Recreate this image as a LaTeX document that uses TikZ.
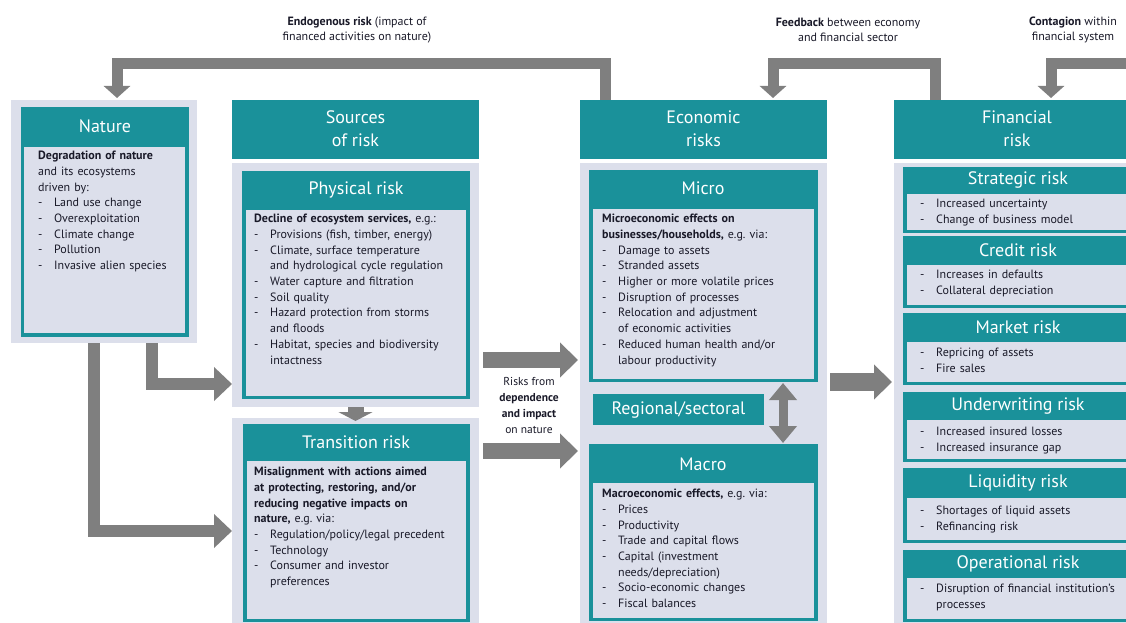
\documentclass[tikz,border=0pt]{standalone}
\usepackage{fontspec}
\setmainfont{PT Sans}
\usetikzlibrary{arrows.meta, calc, positioning}
\definecolor{ecbteal}{RGB}{26,145,154}
\definecolor{paneltint}{RGB}{220,223,235}
\definecolor{arrowgray}{RGB}{127,127,127}
\definecolor{ink}{RGB}{25,25,40}
\newcommand{\bodyfont}{\fontsize{12}{15.7}\selectfont\frenchspacing}
\newcommand{\headfont}{\fontsize{18}{23}\selectfont}
\newcommand{\dash}{\makebox[16pt][l]{-}}
\newcommand{\itm}{\par\noindent\dash}
\newcommand{\cnt}{\par\noindent\hspace*{16pt}}
\tikzset{
    box/.style={rectangle, anchor=north west, inner sep=0pt, outer sep=0pt, draw=none},
    panel/.style={box, fill=paneltint},
    tealbox/.style={box, fill=ecbteal},
    bodyarea/.style={box, fill=paneltint},
    title/.style={text=white, font=\headfont, align=center, inner sep=0pt},
    bodytext/.style={anchor=north west, inner sep=0pt, align=left, font=\bodyfont, text=ink},
    note/.style={align=center, font=\bodyfont, text=ink, inner sep=0pt},
    bigarrow/.style={draw=arrowgray, line width=11pt, -{Triangle[width=26pt,length=12pt]}},
    sidearrow/.style={draw=arrowgray, line width=12pt, -{Triangle[width=33pt,length=18pt]}},
    flatarrow/.style={draw=arrowgray, line width=16pt, -{Triangle[width=34pt,length=18pt]}},
    smallarrow/.style={draw=arrowgray, line width=16pt, -{Triangle[width=34pt,length=9pt]}},
    dblarrow/.style={draw=arrowgray, line width=9pt, {Triangle[width=27pt,length=17pt]}-{Triangle[width=27pt,length=17pt]}}
}
\begin{document}
\begin{tikzpicture}[x=1pt, y=-1pt]
    \useasboundingbox (0,0) rectangle (1126,623);
    \clip (0,0) rectangle (1126,623);

    % Panels and headers
    \node (naturepanel) [panel, minimum width=186pt, minimum height=243pt] at (11,100) {};
    \node (sourceshdr) [tealbox, minimum width=247pt, minimum height=59pt] at (232,100) {};
    \node (physpanel) [panel, minimum width=247pt, minimum height=244pt] at (232,163) {};
    \node (transpanel) [panel, minimum width=247pt, minimum height=210pt] at (232,418) {};
    \node (econhdr) [tealbox, minimum width=247pt, minimum height=59pt] at (580,100) {};
    \node (econpanel) [panel, minimum width=247pt, minimum height=465pt] at (580,163) {};
    \node (finhdr) [tealbox, minimum width=240pt, minimum height=59pt] at (894,100) {};
    \node (finpanel) [panel, minimum width=240pt, minimum height=465pt] at (894,163) {};

    \node (sourcestitle) [title] at (355.5,129) {Sources\\of risk};
    \node (econtitle) [title] at (703.5,129) {Economic\\risks};
    \node (fintitle) [title] at (1017,129) {Financial\\risk};

    % Nature
    \node (naturebox) [tealbox, minimum width=168pt, minimum height=230pt] at (21,107) {};
    \node (naturebody) [bodyarea, minimum width=161pt, minimum height=186pt] at (24,147) {};
    \node (naturetitle) [title] at (105,126) {Nature};
    \node (naturetext) [bodytext, text width=148pt] at (38,151) {\textbf{Degradation of nature}\\and its ecosystems\\driven by:
        \itm Land use change
        \itm Overexploitation
        \itm Climate change
        \itm Pollution
        \itm Invasive alien species};

    % Physical risk
    \node (physbox) [tealbox, minimum width=228pt, minimum height=228pt] at (242,171) {};
    \node (physbody) [bodyarea, minimum width=220pt, minimum height=186pt] at (246,210) {};
    \node (phystitle) [title] at (356,190) {Physical risk};
    \node (phystext) [bodytext, text width=210pt] at (254,214) {\textbf{Decline of ecosystem services,} e.g.:
        \itm Provisions (fish, timber, energy)
        \itm Climate, surface temperature \cnt and hydrological cycle regulation
        \itm Water capture and filtration
        \itm Soil quality
        \itm Hazard protection from storms \cnt and floods
        \itm Habitat, species and biodiversity \cnt intactness};

    % Transition risk
    \node (transbox) [tealbox, minimum width=227pt, minimum height=198pt] at (243,424) {};
    \node (transbody) [bodyarea, minimum width=219pt, minimum height=158pt] at (247,461) {};
    \node (transtitle) [title] at (356,442) {Transition risk};
    \node (transtext) [bodytext, text width=210pt] at (254,467) {\textbf{Misalignment with actions aimed}\\\textbf{at protecting, restoring, and/or}\\\textbf{reducing negative impacts on}\\\textbf{nature,} e.g. via:
        \itm Regulation/policy/legal precedent
        \itm Technology
        \itm Consumer and investor \cnt preferences};

    % Micro
    \node (microbox) [tealbox, minimum width=229pt, minimum height=212pt] at (589,170) {};
    \node (microbody) [bodyarea, minimum width=221pt, minimum height=170pt] at (593,209) {};
    \node (microtitle) [title] at (703,188) {Micro};
    \node (microtext) [bodytext, text width=210pt] at (602,214) {\textbf{Microeconomic effects on}\\\textbf{businesses/households,} e.g. via:
        \itm Damage to assets
        \itm Stranded assets
        \itm Higher or more volatile prices
        \itm Disruption of processes
        \itm Relocation and adjustment \cnt of economic activities
        \itm Reduced human health and/or \cnt labour productivity};

    \node (regional) [tealbox, minimum width=171pt, minimum height=31pt] at (593,394) {};
    \node (regionaltitle) [title] at (678.5,409.5) {Regional/sectoral};

    % Macro
    \node (macrobox) [tealbox, minimum width=229pt, minimum height=177pt] at (589,444) {};
    \node (macrobody) [bodyarea, minimum width=221pt, minimum height=135pt] at (593,483) {};
    \node (macrotitle) [title] at (703,464) {Macro};
    \node (macrotext) [bodytext, text width=210pt] at (602,489) {\textbf{Macroeconomic effects,} e.g. via:
        \itm Prices
        \itm Productivity
        \itm Trade and capital flows
        \itm Capital (investment \cnt needs/depreciation)
        \itm Socio-economic changes
        \itm Fiscal balances};

    % Financial risks
    \node (stratbox) [tealbox, minimum width=232pt, minimum height=66pt] at (903,167) {};
    \node (stratbody) [bodyarea, minimum width=230pt, minimum height=36pt] at (907,194) {};
    \node (strattitle) [title] at (1018,180) {Strategic risk};
    \node (strattext) [bodytext, text width=200pt] at (920,199) {\dash Increased uncertainty \itm Change of business model};

    \node (creditbox) [tealbox, minimum width=232pt, minimum height=72pt] at (903,236) {};
    \node (creditbody) [bodyarea, minimum width=230pt, minimum height=40pt] at (907,265) {};
    \node (credittitle) [title] at (1018,250) {Credit risk};
    \node (credittext) [bodytext, text width=200pt] at (920,270) {\dash Increases in defaults \itm Collateral depreciation};

    \node (marketbox) [tealbox, minimum width=232pt, minimum height=72pt] at (903,313) {};
    \node (marketbody) [bodyarea, minimum width=230pt, minimum height=40pt] at (907,342) {};
    \node (markettitle) [title] at (1018,327) {Market risk};
    \node (markettext) [bodytext, text width=200pt] at (920,348) {\dash Repricing of assets \itm Fire sales};

    \node (underbox) [tealbox, minimum width=232pt, minimum height=70pt] at (903,392) {};
    \node (underbody) [bodyarea, minimum width=230pt, minimum height=39pt] at (907,420) {};
    \node (undertitle) [title] at (1018,406) {Underwriting risk};
    \node (undertext) [bodytext, text width=200pt] at (920,427) {\dash Increased insured losses \itm Increased insurance gap};

    \node (liqbox) [tealbox, minimum width=232pt, minimum height=75pt] at (903,468) {};
    \node (liqbody) [bodyarea, minimum width=230pt, minimum height=42pt] at (907,498) {};
    \node (liqtitle) [title] at (1018,483) {Liquidity risk};
    \node (liqtext) [bodytext, text width=200pt] at (920,506) {\dash Shortages of liquid assets \itm Refinancing risk};

    \node (opbox) [tealbox, minimum width=232pt, minimum height=72pt] at (903,550) {};
    \node (opbody) [bodyarea, minimum width=230pt, minimum height=41pt] at (907,578) {};
    \node (optitle) [title] at (1018,564) {Operational risk};
    \node (optext) [bodytext, text width=200pt] at (920,584) {\dash Disruption of financial institution’s \cnt processes};

    % Labels
    \node (endolabel) [note] at (357,30) {\textbf{Endogenous risk} (impact of\\financed activities on nature)};
    \node (fblabel) [note] at (848,30) {\textbf{Feedback} between economy\\and financial sector};
    \node (ctlabel) [note] at (1073,30) {\textbf{Contagion} within\\financial system};
    \node (risklabel) [note, font=\fontsize{11.5}{16}\selectfont] at (529,405) {Risks from\\\textbf{dependence}\\\textbf{and impact}\\on nature};

    % Arrows
    \coordinate (endoR) at (605,64);
    \coordinate (endoL) at (117,64);
    \draw [bigarrow, shorten >=2pt] (econhdr.north -| endoR) -- (endoR) -- (endoL) -- (naturepanel.north -| endoL);
    \coordinate (fbR) at (935,64);
    \coordinate (fbL) at (773,64);
    \draw [bigarrow, shorten >=2pt] (finhdr.north -| fbR) -- (fbR) -- (fbL) -- (econhdr.north -| fbL);
    \coordinate (ctR) at (1140,64);
    \coordinate (ctL) at (1051,64);
    \draw [bigarrow, shorten >=2pt] (ctR) -- (ctL) -- (finhdr.north -| ctL);

    \coordinate (natA) at (152,384);
    \coordinate (natB) at (94,531);
    \draw [sidearrow] (naturepanel.south -| natA) |- (physpanel.west |- natA);
    \draw [sidearrow] (naturepanel.south -| natB) |- (transpanel.west |- natB);
    \draw [smallarrow, shorten >=-3pt] (physpanel.south) -- (transpanel.north);

    \coordinate (srcA) at (0,360);
    \coordinate (srcB) at (0,451);
    \draw [flatarrow, shorten <=4pt, shorten >=2pt] (physpanel.east |- srcA) -- (econpanel.west |- srcA);
    \draw [flatarrow, shorten <=4pt, shorten >=2pt] (transpanel.east |- srcB) -- (econpanel.west |- srcB);
    \coordinate (finA) at (0,382);
    \draw [flatarrow, line width=18pt, shorten <=3pt, shorten >=2pt] (econpanel.east |- finA) -- (finpanel.west |- finA);

    \coordinate (mm) at (783,0);
    \draw [dblarrow, shorten <=1pt, shorten >=1pt] (microbox.south -| mm) -- (macrobox.north -| mm);

\end{tikzpicture}
\end{document}
